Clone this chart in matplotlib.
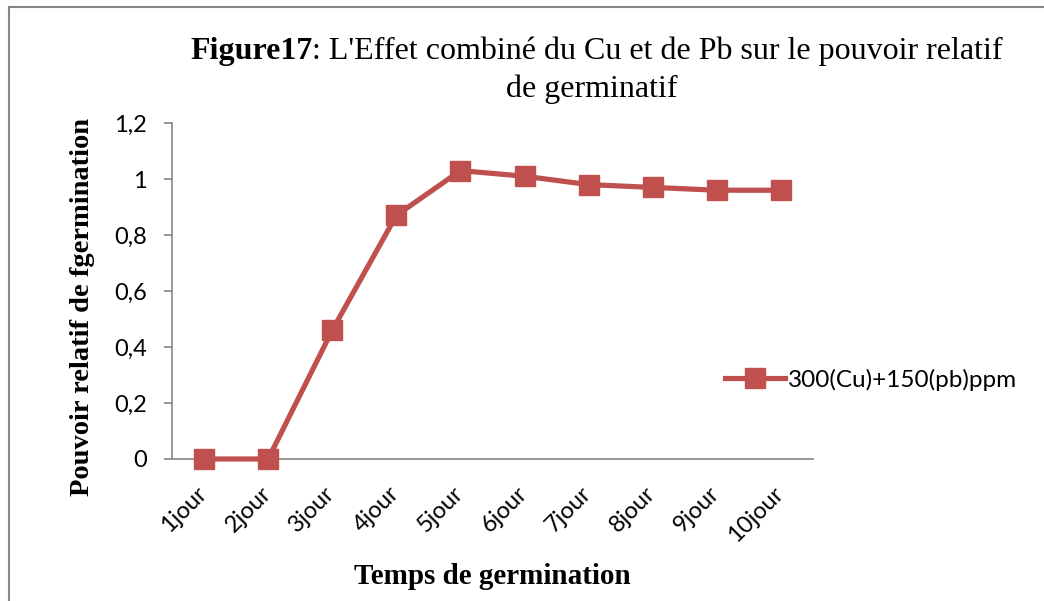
import matplotlib
matplotlib.use("Agg")
import matplotlib.pyplot as plt
from matplotlib.lines import Line2D
from matplotlib.ticker import FuncFormatter
from matplotlib.transforms import ScaledTranslation

# données
jours = ["1jour", "2jour", "3jour", "4jour", "5jour",
         "6jour", "7jour", "8jour", "9jour", "10jour"]
pouvoir = [0.0, 0.0, 0.46, 0.87, 1.03, 1.01, 0.98, 0.97, 0.96, 0.96]
serie_nom = "300(Cu)+150(pb)ppm"

rouge = "#C0504D"
gris = "#868686"
sans = ["Lato", "DejaVu Sans"]
serif = "Liberation Serif"

fig = plt.figure(figsize=(10.44, 6.01), dpi=100)
ax = fig.add_axes([0.1648, 0.2363, 0.6139, 0.559])

x = list(range(len(jours)))
ax.plot(x, pouvoir, color=rouge, linewidth=3.75, marker="s", markersize=14,
        markeredgecolor=rouge, label=serie_nom, clip_on=False, zorder=5)

ax.set_xlim(-0.5, len(jours) - 0.5)
ax.set_ylim(0, 1.2)
ax.set_yticks([0, 0.2, 0.4, 0.6, 0.8, 1.0, 1.2])
ax.yaxis.set_major_formatter(FuncFormatter(lambda v, p: f"{v:g}".replace(".", ",")))
ax.set_xticks(x)
ax.set_xticklabels(jours, rotation=45, ha="right", rotation_mode="anchor")

for s in ("top", "right"):
    ax.spines[s].set_visible(False)
for s in ("left", "bottom"):
    ax.spines[s].set_color(gris)
    ax.spines[s].set_linewidth(1.2)
ax.tick_params(axis="y", length=6, color=gris, width=1.2, pad=12)
ax.tick_params(axis="x", length=0, pad=10)
decal = ScaledTranslation(-0.08, -0.10, fig.dpi_scale_trans)
for lab in ax.get_yticklabels() + ax.get_xticklabels():
    lab.set_family(sans)
    lab.set_fontsize(17)
for lab in ax.get_xticklabels():
    lab.set_transform(lab.get_transform() + decal)

ax.set_xlabel("Temps de germination", family=serif, fontweight="bold",
              fontsize=21, va="center")
ax.xaxis.set_label_coords(0.5, -0.351)
ax.set_ylabel("Pouvoir relatif de fgermination", family=serif,
              fontweight="bold", fontsize=20.5, va="center")
ax.yaxis.set_label_coords(-0.139, 0.452)

# titre : "Figure17" en gras, suite en normal juste après
fig.canvas.draw()
gras = fig.text(0.182, 0.915, "Figure17", family=serif, fontweight="bold",
                fontsize=23, ha="left", va="center")
r = fig.canvas.get_renderer()
fin = fig.transFigure.inverted().transform(
    (gras.get_window_extent(r).x1, 0))[0]
fig.text(fin, 0.915, ": L'Effet combiné du Cu et de Pb sur le pouvoir relatif",
         family=serif, fontsize=23, ha="left", va="center")
fig.text(0.567, 0.852, "de germinatif", family=serif, fontsize=23,
         ha="center", va="center")

leg = ax.legend(loc="center left", bbox_to_anchor=(0.694, 0.368),
                bbox_transform=fig.transFigure, frameon=False,
                prop={"family": sans, "size": 17.5}, handlelength=2.5,
                handletextpad=0.1, borderaxespad=0, borderpad=0)

# cadre gris (haut et gauche)
fig.add_artist(Line2D([9 / 1044, 9 / 1044], [0, 1 - 7 / 601],
                      transform=fig.transFigure, color=gris, linewidth=1.5))
fig.add_artist(Line2D([9 / 1044, 1], [1 - 7 / 601, 1 - 7 / 601],
                      transform=fig.transFigure, color=gris, linewidth=1.5))

fig.savefig("out.png", dpi=100)
